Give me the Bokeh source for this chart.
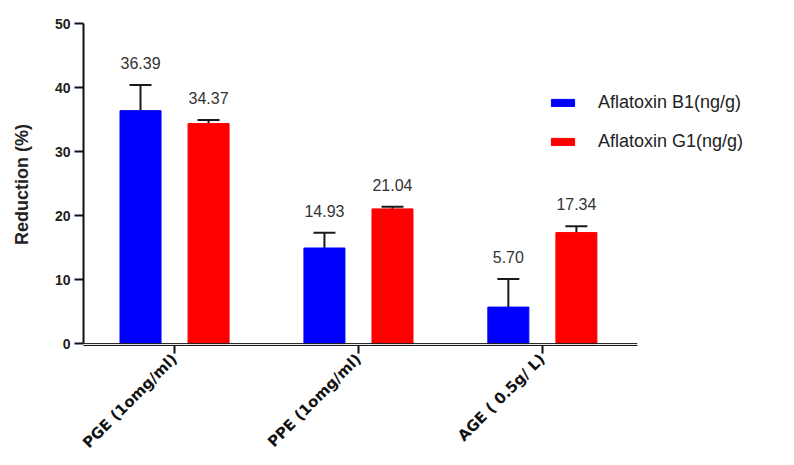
from bokeh.plotting import figure
from bokeh.models import ColumnDataSource, Range1d, Whisker, TeeHead, FixedTicker
from bokeh.transform import dodge
from bokeh.core.properties import value
from bokeh.embed import file_html
from bokeh.resources import INLINE

categories = ["PGE (1omg/ml)", "PPE (1omg/ml)", "AGE ( 0.5g/ L)"]
b1_values = [36.39, 14.93, 5.70]
b1_errors = [4.0, 2.4, 4.4]
b1_labels = ["36.39", "14.93", "5.70"]
g1_values = [34.37, 21.04, 17.34]
g1_errors = [0.55, 0.35, 1.0]
g1_labels = ["34.37", "21.04", "17.34"]
y_ticks = [0, 10, 20, 30, 40, 50]

idx = list(range(len(categories)))
src_b = ColumnDataSource(dict(x=idx, val=b1_values,
                              top=[v + e for v, e in zip(b1_values, b1_errors)],
                              lab=b1_labels))
src_g = ColumnDataSource(dict(x=idx, val=g1_values,
                              top=[v + e for v, e in zip(g1_values, g1_errors)],
                              lab=g1_labels))

x_lo, x_hi_axis, x_hi = -0.495, len(categories) - 0.484, 3.36

p = figure(width=794, height=465, output_backend="svg", toolbar_location=None,
           x_range=Range1d(x_lo, x_hi), y_range=Range1d(-0.3, 50),
           min_border_left=83, min_border_right=2, min_border_top=23, min_border_bottom=120)
p.outline_line_color = None
p.grid.grid_line_color = None
p.background_fill_color = "white"
p.border_fill_color = "white"

off = 0.185
bw = 0.223
p.vbar(x=dodge("x", -off), top="val", bottom=0, width=bw, source=src_b,
       fill_color="#0000ff", line_color="#0000ff", legend_label="Aflatoxin B1(ng/g)")
p.vbar(x=dodge("x", off), top="val", bottom=0, width=bw, source=src_g,
       fill_color="#ff0000", line_color="#ff0000", legend_label="Aflatoxin G1(ng/g)")

for src, o in ((src_b, -off), (src_g, off)):
    w = Whisker(base=dodge("x", o), lower="val", upper="top", source=src,
                line_color="#1a1a1a", line_width=2, lower_head=None,
                upper_head=TeeHead(size=22, line_color="#1a1a1a", line_width=2))
    p.add_layout(w)
    p.text(x=dodge("x", o), y="top", text="lab", source=src,
           text_align="center", text_baseline="bottom", y_offset=-16,
           text_font=value("Liberation Sans"), text_font_size="16px", text_color="#333333")

# double baseline (second line at zero)
p.segment(x0=[x_lo], y0=[0], x1=[x_hi_axis], y1=[0], line_color="#1a1a1a", line_width=1)

# y axis
ya = p.yaxis[0]
ya.ticker = FixedTicker(ticks=y_ticks)
ya.bounds = (0, 50)
ya.minor_tick_line_color = None
ya.major_tick_in = 0
ya.major_tick_out = 9
ya.major_tick_line_width = 2
ya.axis_line_width = 2
ya.axis_line_color = "#111111"
ya.major_tick_line_color = "#111111"
ya.major_label_text_font = "Liberation Sans"
ya.major_label_text_font_style = "bold"
ya.major_label_text_font_size = "14px"
ya.major_label_text_color = "#222222"
ya.major_label_standoff = 4
ya.axis_label = "Reduction (%)"
ya.axis_label_text_font = "Liberation Sans"
ya.axis_label_text_font_style = "bold"
ya.axis_label_text_font_size = "18px"
ya.axis_label_text_color = "#222222"
ya.axis_label_standoff = 20

# x axis
xa = p.xaxis[0]
xa.ticker = FixedTicker(ticks=idx)
xa.major_label_overrides = {i: c for i, c in zip(idx, categories)}
xa.bounds = (x_lo, x_hi_axis)
xa.axis_line_width = 1
xa.axis_line_color = "#1a1a1a"
xa.major_tick_in = 0
xa.major_tick_out = 8
xa.major_tick_line_width = 2
xa.major_tick_line_color = "#111111"
xa.minor_tick_line_color = None
xa.major_label_orientation = 0.785
xa.major_label_text_font = "DejaVu Sans"
xa.major_label_text_font_style = "bold"
xa.major_label_text_font_size = "15px"
xa.major_label_text_color = "#111111"
xa.major_label_standoff = 3

lg = p.legend[0]
lg.location = (465, 193)
lg.border_line_color = None
lg.background_fill_alpha = 0
lg.padding = 0
lg.margin = 0
lg.glyph_width = 29
lg.glyph_height = 9
lg.label_height = 20
lg.spacing = 18
lg.label_standoff = 21
lg.label_text_font = "Liberation Sans"
lg.label_text_font_size = "18px"
lg.label_text_color = "#222222"

open("out.html", "w").write(file_html(p, INLINE))
